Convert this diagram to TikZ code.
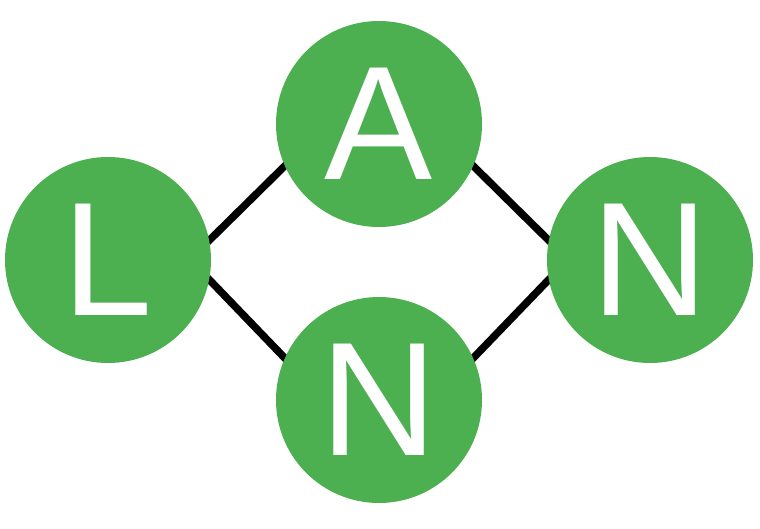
\documentclass[tikz,border=0pt]{standalone}
\usepackage{fontspec}
\setmainfont{Liberation Sans}
\usetikzlibrary{backgrounds}
\definecolor{lanGreen}{RGB}{76,175,80}

\begin{document}
\begin{tikzpicture}[x=1pt,y=-1pt,
  letter/.style={circle,fill=lanGreen,minimum size=206pt,inner sep=0,
                 text=white,font=\fontsize{162}{166}\selectfont},
  link/.style={line width=7.5pt,black,shorten <=-15pt,shorten >=-15pt}]

  \useasboundingbox (0,0) rectangle (760,528);

  % ---- four letters ----
  \node[letter] (l)  at (108,260) {L};
  \node[letter] (a)  at (379,124) {A};
  \node[letter] (n1) at (379,400) {N};
  \node[letter] (n2) at (650,260) {N};

  % ---- links behind ----
  \begin{pgfonlayer}{background}
    \foreach \p/\q in {l.11/a.204,l.-11/n1.156,a.-24/n2.169,n1.24/n2.191}
      \draw[link] (\p)--(\q);
  \end{pgfonlayer}
\end{tikzpicture}
\end{document}
